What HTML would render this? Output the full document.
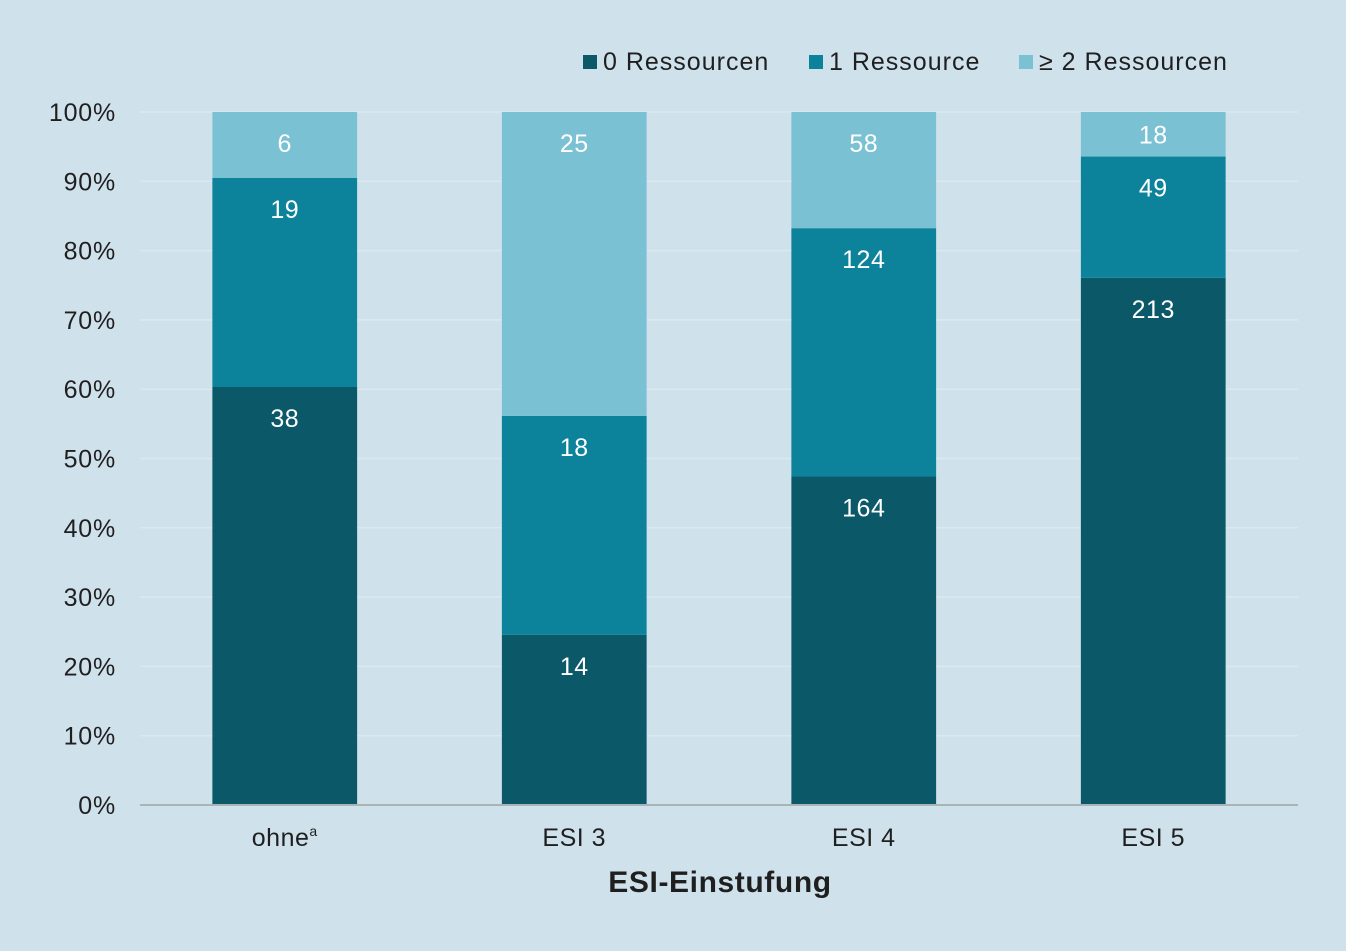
<!DOCTYPE html>
<html><head><meta charset="utf-8">
<style>
html,body{margin:0;padding:0;background:#cfe2ec;}
svg{display:block;font-family:"Liberation Sans",Arial,sans-serif;}
</style></head>
<body>
<svg id="chart" width="1346" height="951" viewBox="0 0 1346 951">
<rect x="0" y="0" width="1346" height="951" fill="#cfe2ec"/>
<g id="grid"></g>
<g id="bars"></g>
<g id="yticks"></g>
<g id="xticks"></g>
<line x1="140" y1="805" x2="1298" y2="805" stroke="#a9b3b8" stroke-width="2"/>
<text x="720" y="892" text-anchor="middle" font-size="30" font-weight="bold" letter-spacing="0.6" fill="#1f1f1f">ESI-Einstufung</text>
<g letter-spacing="1">
<g><rect x="583" y="55" width="14" height="14" fill="#0b5868"/><text x="603" y="70" font-size="25" fill="#1f1f1f">0 Ressourcen</text></g>
<g><rect x="809" y="55" width="14" height="14" fill="#0c839b"/><text x="829" y="70" font-size="25" fill="#1f1f1f">1 Ressource</text></g>
<g><rect x="1019" y="55" width="14" height="14" fill="#7bc1d4"/><text x="1039" y="70" font-size="25" fill="#1f1f1f">≥ 2 Ressourcen</text></g>
</g>
</svg>
<script>
const categories = ["ohne", "ESI 3", "ESI 4", "ESI 5"];
const res0 = [38, 14, 164, 213];
const res1 = [19, 18, 124, 49];
const res2 = [6, 25, 58, 18];
const yTicks = [0,10,20,30,40,50,60,70,80,90,100];

const NS="http://www.w3.org/2000/svg";
const x0=140, x1=1298, yBase=805, yTop=112;
const band=(x1-x0)/categories.length, barW=band*0.5;
function y(p){return yBase-(yBase-yTop)*p/100;}
function xc(i){return x0+band*i+band/2;}
function mk(tag,attrs,parent){const e=document.createElementNS(NS,tag);for(const k in attrs)e.setAttribute(k,attrs[k]);parent.appendChild(e);return e;}
const grid=document.getElementById('grid'),bars=document.getElementById('bars'),yt=document.getElementById('yticks'),xt=document.getElementById('xticks');
yTicks.forEach(t=>{
  if(t>0){const l=mk('line',{x1:x0,x2:x1,y1:y(t),y2:y(t),stroke:'#dde8ee','stroke-width':1.5},grid);
  
  }
  const tx=mk('text',{x:116,y:y(t)+9,'text-anchor':'end','font-size':25,'letter-spacing':0.8,fill:'#1f1f1f'},yt);
  tx.textContent=t+'%';
  
  
});
const series=[res0,res1,res2], colors=['#0b5868','#0c839b','#7bc1d4'], sn=['res0','res1','res2'];
categories.forEach((c,i)=>{
  const tot=res0[i]+res1[i]+res2[i]; let cum=0;
  series.forEach((s,k)=>{
    const p=s[i]/tot*100, top=y(cum+p), bot=y(cum); cum+=p;
    const r=mk('rect',{x:xc(i)-barW/2,y:top,width:barW,height:bot-top,fill:colors[k]},bars);
    
    
    const off=Math.min(31,(bot-top)/2);
    const t=mk('text',{x:xc(i),y:top+off+9,'text-anchor':'middle','font-size':25,'letter-spacing':0.5,fill:'#ffffff'},bars);
    t.textContent=s[i];
    
    
  });
  const t=mk('text',{x:xc(i),y:846,'text-anchor':'middle','font-size':25,'letter-spacing':0.5,fill:'#1f1f1f'},xt);
  t.textContent=c;
  if(i===0){const s=mk('tspan',{'font-size':14,dy:-10},t);s.textContent='a';}
  
  
});
</script>
</body></html>
